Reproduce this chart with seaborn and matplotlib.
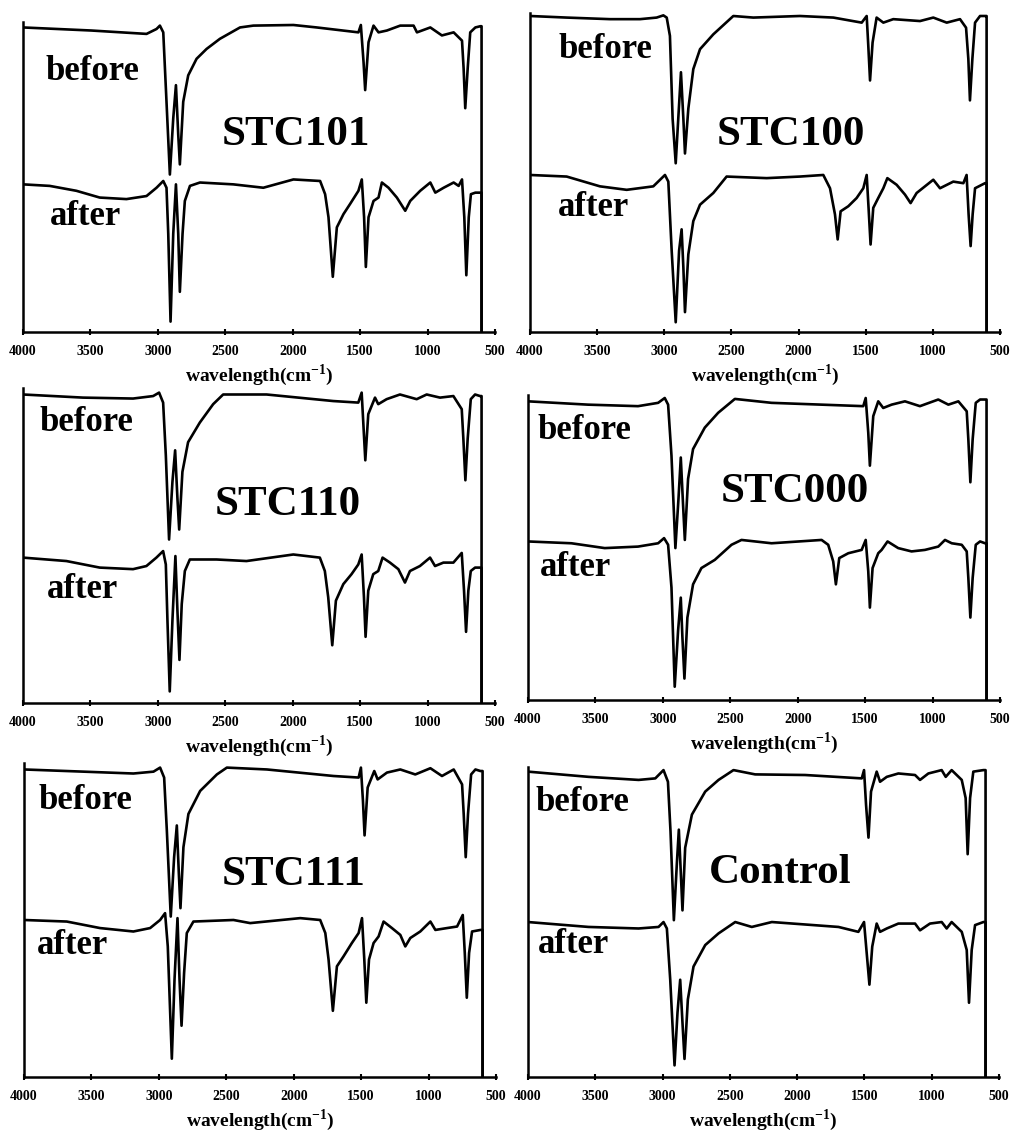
import matplotlib
matplotlib.use("Agg")
import matplotlib.pyplot as plt
import seaborn as sns

# FTIR spectra (wavenumber, relative height 0-100 of each panel)
# STC101
stc101_wn_before = [4000, 3493, 3084, 3010, 2985, 2960, 2936, 2911, 2886, 2866, 2849, 2837, 2812, 2775,
                    2713, 2639, 2540, 2391, 2292, 1995, 1822, 1513, 1495, 1475, 1463, 1438, 1401, 1364,
                    1302, 1203, 1104, 1079, 980, 894, 807, 745, 733, 721, 703, 684, 646, 609, 600, 600]
stc101_before = [99.2, 98.2, 97.1, 98.7, 99.8, 97.6, 75.0, 51.3, 69.6, 80.4, 64.3, 54.6, 75.0, 83.6,
                 89.0, 92.2, 95.5, 99.2, 99.8, 100, 99.2, 97.6, 100, 87.9, 78.8, 94.4, 99.8, 97.6,
                 98.2, 99.8, 99.8, 97.6, 99.2, 96.6, 97.6, 94.9, 85.8, 72.9, 85.8, 97.6, 99.2, 99.6, 99.6, 0]
stc101_wn_after = [4000, 3802, 3604, 3431, 3233, 3084, 3010, 2960, 2936, 2923, 2906, 2886, 2866, 2849,
                   2837, 2817, 2800, 2762, 2688, 2441, 2218, 1995, 1797, 1760, 1735, 1703, 1673, 1624,
                   1575, 1513, 1488, 1471, 1458, 1438, 1401, 1364, 1339, 1290, 1228, 1166, 1129, 1055,
                   980, 943, 881, 807, 770, 745, 728, 713, 695, 679, 646, 609, 600, 600]
stc101_after = [48.1, 47.6, 46.0, 43.8, 43.3, 44.3, 47.0, 49.2, 47.0, 32.0, 3.4, 32.0, 48.1, 32.0,
                13.1, 32.0, 42.7, 47.6, 48.7, 48.1, 47.0, 49.7, 49.2, 44.9, 37.4, 18.0, 34.1, 38.4,
                41.7, 46.0, 49.7, 37.4, 21.2, 37.4, 42.7, 43.8, 48.7, 47.0, 43.8, 39.5, 42.7, 46.0,
                48.7, 45.4, 47.0, 48.7, 47.6, 49.7, 37.4, 18.5, 37.4, 44.9, 45.4, 45.4, 45.4, 0]

# STC100
stc100_wn_before = [4000, 3727, 3404, 3181, 3057, 3007, 2982, 2958, 2938, 2915, 2896, 2876, 2858, 2846,
                    2821, 2784, 2734, 2635, 2486, 2337, 1990, 1741, 1530, 1493, 1481, 1468, 1449, 1419,
                    1369, 1295, 1096, 997, 897, 798, 753, 736, 724, 706, 686, 649, 612, 600, 600]
stc100_before = [100, 99.5, 99.0, 99.0, 99.5, 100.2, 99.5, 93.7, 67.5, 53.4, 67.5, 82.2, 67.5, 56.5,
                 70.7, 83.2, 89.5, 94.2, 100, 99.5, 100, 99.5, 97.9, 100, 90.6, 79.6, 91.6, 99.5,
                 97.9, 99.0, 98.4, 99.5, 97.9, 99.0, 96.3, 86.4, 73.3, 86.4, 97.9, 100, 100, 100, 0]
stc100_wn_after = [4000, 3727, 3479, 3280, 3082, 2995, 2970, 2945, 2915, 2890, 2871, 2858, 2846, 2821,
                   2784, 2734, 2635, 2536, 2238, 1990, 1816, 1766, 1729, 1709, 1687, 1630, 1568, 1518,
                   1493, 1479, 1464, 1444, 1407, 1369, 1339, 1270, 1208, 1166, 1121, 997, 947, 848,
                   773, 749, 734, 719, 704, 686, 612, 600, 600]
stc100_after = [49.7, 49.2, 46.1, 45.0, 46.1, 49.7, 47.6, 25.7, 3.1, 25.7, 32.5, 20.4, 6.3, 24.6,
                35.1, 40.3, 44.0, 49.2, 48.7, 49.2, 49.7, 45.5, 37.2, 29.3, 38.2, 39.8, 42.4, 45.5,
                49.7, 39.3, 27.7, 39.3, 42.4, 45.5, 48.7, 46.6, 43.5, 40.8, 44.0, 48.2, 45.5, 47.6,
                47.1, 49.7, 37.2, 27.2, 37.2, 45.5, 47.1, 47.1, 0]

# STC110
stc110_wn_before = [4000, 3555, 3184, 3035, 2991, 2961, 2941, 2917, 2892, 2872, 2855, 2842, 2818, 2776,
                    2689, 2590, 2516, 2194, 1700, 1514, 1489, 1477, 1462, 1440, 1390, 1366, 1304, 1205,
                    1081, 1007, 908, 809, 747, 735, 720, 703, 680, 648, 611, 600, 600]
stc110_before = [98.9, 97.9, 97.6, 98.4, 99.5, 96.3, 79.4, 52.4, 70.9, 81.0, 65.6, 55.6, 74.1, 83.6,
                 89.9, 95.8, 98.9, 98.9, 96.8, 96.3, 99.5, 89.9, 77.8, 92.6, 97.9, 95.8, 97.4, 98.9,
                 97.4, 98.9, 97.9, 98.4, 94.2, 84.7, 71.4, 84.7, 97.4, 98.9, 98.4, 98.4, 0]
stc110_wn_after = [4000, 3678, 3431, 3184, 3085, 3011, 2961, 2941, 2929, 2912, 2892, 2870, 2855, 2840,
                   2823, 2800, 2763, 2565, 2343, 1996, 1799, 1762, 1737, 1707, 1680, 1625, 1564, 1514,
                   1489, 1472, 1460, 1440, 1403, 1366, 1334, 1279, 1217, 1168, 1131, 1057, 982, 945,
                   883, 809, 747, 730, 715, 698, 680, 648, 611, 600, 600]
stc110_after = [46.6, 45.5, 43.4, 42.9, 43.9, 46.6, 48.7, 44.4, 26.5, 3.7, 26.5, 47.1, 29.6, 13.8,
                31.7, 42.3, 46.0, 46.0, 45.5, 47.6, 46.6, 42.3, 33.9, 18.5, 32.8, 38.1, 41.3, 44.4,
                47.6, 33.9, 21.2, 36.0, 41.3, 42.3, 46.6, 45.0, 42.9, 38.6, 42.3, 43.9, 46.6, 43.9,
                45.0, 45.0, 48.1, 36.0, 22.8, 36.0, 42.3, 43.4, 43.4, 43.4, 0]

# STC000
stc000_wn_before = [4000, 3555, 3184, 3035, 2986, 2961, 2936, 2907, 2884, 2867, 2850, 2837, 2813, 2776,
                    2689, 2590, 2466, 2194, 1823, 1514, 1496, 1477, 1465, 1440, 1403, 1366, 1304, 1205,
                    1094, 958, 883, 809, 747, 735, 720, 703, 680, 648, 611, 600, 600]
stc000_before = [98.9, 97.8, 97.3, 98.4, 100, 97.8, 80.9, 50.3, 66.7, 80.3, 64.5, 53.0, 73.2, 83.1,
                 90.2, 95.1, 99.7, 98.4, 97.8, 97.3, 100, 88.5, 77.6, 94.0, 98.9, 96.7, 97.8, 98.9,
                 97.3, 99.5, 97.8, 98.9, 95.6, 86.3, 72.1, 86.3, 98.4, 99.5, 99.5, 99.5, 0]
stc000_wn_after = [4000, 3678, 3431, 3184, 3035, 2991, 2961, 2936, 2912, 2887, 2867, 2855, 2840, 2818,
                   2776, 2714, 2615, 2491, 2417, 2194, 1823, 1774, 1737, 1717, 1692, 1625, 1526, 1496,
                   1477, 1465, 1445, 1403, 1378, 1334, 1255, 1156, 1057, 958, 908, 858, 784, 747,
                   735, 720, 703, 680, 648, 611, 600, 600]
stc000_after = [52.5, 51.9, 50.3, 50.8, 51.9, 53.6, 51.4, 37.2, 4.4, 23.0, 33.9, 20.8, 7.1, 27.3,
                38.3, 43.7, 46.4, 51.4, 53.0, 51.9, 53.0, 51.4, 45.9, 38.3, 47.0, 48.6, 49.7, 53.0,
                42.6, 30.6, 43.7, 48.6, 49.7, 52.5, 50.3, 49.2, 49.7, 50.8, 53.0, 51.9, 51.4, 49.2,
                40.4, 27.3, 40.4, 51.4, 52.5, 51.9, 51.9, 0]

# STC111
stc111_wn_before = [4000, 3560, 3189, 3040, 2991, 2961, 2941, 2912, 2887, 2867, 2852, 2840, 2818, 2781,
                    2694, 2570, 2496, 2199, 1705, 1519, 1502, 1487, 1475, 1452, 1403, 1378, 1309, 1210,
                    1099, 987, 901, 814, 752, 740, 725, 708, 685, 653, 616, 600, 600]
stc111_before = [98.9, 98.2, 97.6, 98.2, 99.5, 96.3, 79.3, 51.6, 70.7, 80.9, 65.4, 54.3, 73.9, 84.6,
                 92.0, 97.3, 99.5, 98.9, 96.8, 96.3, 99.5, 88.8, 77.7, 93.1, 98.4, 95.7, 97.9, 98.9,
                 97.3, 99.3, 96.8, 98.9, 94.1, 84.6, 70.7, 84.6, 97.3, 98.9, 98.4, 98.4, 0]
stc111_wn_after = [4000, 3683, 3436, 3189, 3065, 2991, 2954, 2934, 2904, 2884, 2862, 2847, 2832, 2813,
                   2793, 2744, 2447, 2323, 1952, 1804, 1766, 1742, 1710, 1680, 1631, 1569, 1519, 1494,
                   1477, 1462, 1442, 1408, 1371, 1334, 1272, 1210, 1173, 1136, 1062, 987, 950, 864,
                   789, 747, 732, 717, 700, 678, 616, 600, 600]
stc111_after = [50.5, 50.0, 47.9, 46.8, 47.9, 50.5, 52.7, 42.0, 5.9, 31.4, 51.1, 31.4, 16.5, 33.5,
                46.3, 50.0, 50.5, 49.5, 51.1, 50.5, 46.3, 37.8, 21.3, 35.6, 38.8, 43.1, 46.3, 51.1,
                37.8, 23.9, 37.8, 43.1, 45.2, 50.0, 47.9, 45.7, 42.0, 44.7, 46.8, 50.0, 47.3, 47.9,
                48.4, 52.1, 39.9, 25.5, 39.9, 46.8, 47.3, 47.3, 0]

# Control
control_wn_before = [4000, 3550, 3178, 3054, 2993, 2960, 2941, 2916, 2894, 2879, 2864, 2852, 2832, 2782,
                     2683, 2584, 2473, 2312, 1941, 1520, 1503, 1488, 1470, 1451, 1409, 1384, 1334, 1248,
                     1124, 1087, 1025, 926, 896, 852, 777, 748, 733, 715, 691, 616, 600, 600]
control_before = [99.5, 97.8, 96.8, 97.3, 100, 96.2, 80.1, 51.1, 69.4, 80.6, 66.1, 54.3, 74.7, 85.5,
                  93.0, 96.8, 100, 98.6, 98.4, 97.3, 100, 88.7, 78.0, 93.0, 99.5, 96.2, 97.8, 98.9,
                  98.4, 96.8, 98.9, 100, 97.8, 100, 96.8, 90.9, 72.6, 90.9, 99.5, 100, 100, 0]
control_wn_after = [4000, 3550, 3178, 3030, 2993, 2968, 2943, 2911, 2889, 2869, 2852, 2837, 2812, 2770,
                    2683, 2584, 2460, 2337, 2188, 1693, 1545, 1503, 1483, 1463, 1442, 1409, 1384, 1334,
                    1248, 1124, 1087, 1013, 926, 889, 852, 777, 740, 723, 703, 678, 616, 600, 600]
control_after = [50.5, 48.9, 48.4, 48.9, 50.5, 48.4, 31.7, 3.8, 21.0, 31.7, 17.7, 5.9, 25.3, 36.0,
                 43.0, 46.8, 50.5, 48.9, 50.5, 48.9, 47.3, 50.5, 40.3, 30.1, 42.5, 50.0, 47.3, 48.4,
                 50.0, 50.0, 47.8, 50.0, 50.5, 48.4, 50.5, 47.3, 41.4, 24.2, 41.4, 49.5, 50.5, 50.5, 0]

sample_names = ["STC101", "STC100", "STC110", "STC000", "STC111", "Control"]
x_ticks = [4000, 3500, 3000, 2500, 2000, 1500, 1000, 500]

sns.set_style("ticks")
plt.rcParams["font.family"] = ["Liberation Serif", "DejaVu Serif"]
plt.rcParams["font.weight"] = "bold"
plt.rcParams["text.color"] = "black"
plt.rcParams["axes.labelcolor"] = "black"
plt.rcParams["xtick.color"] = "black"
plt.rcParams["mathtext.fontset"] = "custom"
plt.rcParams["mathtext.rm"] = "Liberation Serif:bold"
plt.rcParams["mathtext.bf"] = "Liberation Serif:bold"

spectra = [
    (stc101_wn_before, stc101_before, stc101_wn_after, stc101_after),
    (stc100_wn_before, stc100_before, stc100_wn_after, stc100_after),
    (stc110_wn_before, stc110_before, stc110_wn_after, stc110_after),
    (stc000_wn_before, stc000_before, stc000_wn_after, stc000_after),
    (stc111_wn_before, stc111_before, stc111_wn_after, stc111_after),
    (control_wn_before, control_before, control_wn_after, control_after),
]

# axes boxes [left, bottom, width, height] in figure fractions
boxes = [
    [0.0227, 0.7077, 0.4660, 0.2730],
    [0.5232, 0.7077, 0.4640, 0.2810],
    [0.0227, 0.3812, 0.4660, 0.2773],
    [0.5212, 0.3838, 0.4660, 0.2685],
    [0.0237, 0.0519, 0.4660, 0.2765],
    [0.5212, 0.0519, 0.4650, 0.2729],
]
# label anchors (axes fraction): before, after, sample name
label_pos = [
    ((0.047, 0.841), (0.057, 0.372), (0.420, 0.637)),
    ((0.060, 0.884), (0.060, 0.389), (0.398, 0.618)),
    ((0.036, 0.889), (0.051, 0.359), (0.407, 0.629)),
    ((0.021, 0.885), (0.025, 0.433), (0.409, 0.682)),
    ((0.030, 0.882), (0.028, 0.420), (0.419, 0.643)),
    ((0.015, 0.887), (0.021, 0.426), (0.384, 0.658)),
]

fig = plt.figure(figsize=(10.13, 11.36), dpi=100)

for i, name in enumerate(sample_names):
    ax = fig.add_axes(boxes[i])
    wn_b, t_b, wn_a, t_a = spectra[i]
    sns.lineplot(x=wn_b, y=t_b, ax=ax, color="black", lw=1.9, estimator=None, sort=False)
    sns.lineplot(x=wn_a, y=t_a, ax=ax, color="black", lw=1.9, estimator=None, sort=False)
    ax.set_xlim(4000, 500)
    ax.set_ylim(0, 101)
    ax.set_xticks(x_ticks)
    ax.set_xticklabels([str(t) for t in x_ticks], fontsize=10, fontweight="bold")
    ax.set_yticks([])
    ax.set_ylabel("")
    ax.tick_params(axis="x", direction="inout", length=5, width=1.5, pad=7, colors="black")
    for side in ["top", "right"]:
        ax.spines[side].set_visible(False)
    for side in ["left", "bottom"]:
        ax.spines[side].set_linewidth(1.8)
        ax.spines[side].set_color("black")
    ax.set_xlabel(r"wavelength(cm$^{-1}$)", fontsize=14, fontweight="bold", labelpad=3, color="black")
    (bx, by), (axx, ay), (sx, sy) = label_pos[i]
    ax.text(bx, by, "before", transform=ax.transAxes, fontsize=25, fontweight="bold",
            va="center", ha="left", color="black")
    ax.text(axx, ay, "after", transform=ax.transAxes, fontsize=25, fontweight="bold",
            va="center", ha="left", color="black")
    ax.text(sx, sy, name, transform=ax.transAxes, fontsize=31, fontweight="bold",
            va="center", ha="left", color="black")

fig.savefig("out.png", dpi=100)
